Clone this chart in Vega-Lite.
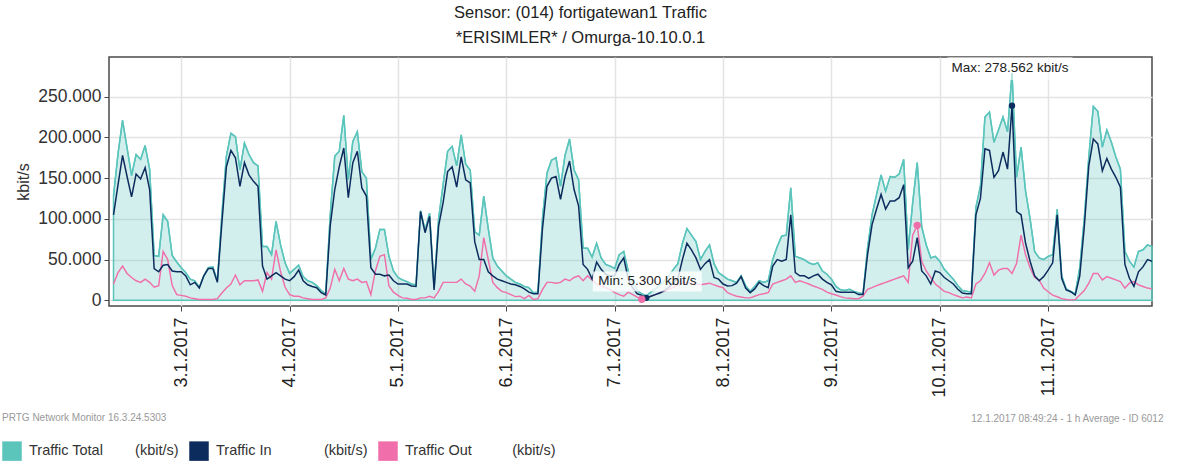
{
"$schema":"https://vega.github.io/schema/vega-lite/v6.json",
"width":1043,"height":249,
"autosize":{"type":"none"},
"padding":{"left":109,"top":57,"right":38,"bottom":164},
"background":"white",
"config":{"font":"Liberation Sans","view":{"stroke":"#4a4a4a","strokeWidth":1.5},
"axis":{"labelFont":"Liberation Sans","titleFont":"Liberation Sans","gridColor":"#e3e3e3","gridWidth":1.5,"tickColor":"#444","domain":false}},
"title":{"text":["Sensor: (014) fortigatewan1 Traffic","*ERISIMLER* / Omurga-10.10.0.1"],"anchor":"middle","frame":"group","dx":-50,"fontSize":16.5,"fontWeight":"normal","color":"#222","lineHeight":25,"offset":10,"font":"Liberation Sans"},
"datasets":{
"traffic":[
{"t":"2017-01-02T09:00","tot":128000,"in":105000,"out":20000},
{"t":"2017-01-02T10:00","tot":180000,"in":142000,"out":34000},
{"t":"2017-01-02T11:00","tot":221000,"in":178000,"out":42000},
{"t":"2017-01-02T12:00","tot":187000,"in":152000,"out":33000},
{"t":"2017-01-02T13:00","tot":153000,"in":127000,"out":28000},
{"t":"2017-01-02T14:00","tot":179000,"in":155000,"out":24000},
{"t":"2017-01-02T15:00","tot":173000,"in":149000,"out":22000},
{"t":"2017-01-02T16:00","tot":190000,"in":163000,"out":26000},
{"t":"2017-01-02T17:00","tot":161000,"in":136000,"out":22000},
{"t":"2017-01-02T18:00","tot":55000,"in":39000,"out":16000},
{"t":"2017-01-02T19:00","tot":54000,"in":35000,"out":18000},
{"t":"2017-01-02T20:00","tot":105000,"in":43000,"out":60000},
{"t":"2017-01-02T21:00","tot":97000,"in":44000,"out":50000},
{"t":"2017-01-02T22:00","tot":55000,"in":36000,"out":18000},
{"t":"2017-01-02T23:00","tot":47000,"in":35000,"out":7000},
{"t":"2017-01-03T00:00","tot":40000,"in":35000,"out":6000},
{"t":"2017-01-03T01:00","tot":34000,"in":30000,"out":5000},
{"t":"2017-01-03T02:00","tot":26000,"in":19000,"out":3000},
{"t":"2017-01-03T03:00","tot":24000,"in":22000,"out":2000},
{"t":"2017-01-03T04:00","tot":16000,"in":15000,"out":1000},
{"t":"2017-01-03T05:00","tot":30000,"in":30000,"out":1000},
{"t":"2017-01-03T06:00","tot":40000,"in":39000,"out":1000},
{"t":"2017-01-03T07:00","tot":41000,"in":39000,"out":1000},
{"t":"2017-01-03T08:00","tot":24000,"in":22000,"out":2000},
{"t":"2017-01-03T09:00","tot":105000,"in":95000,"out":9000},
{"t":"2017-01-03T10:00","tot":177000,"in":164000,"out":15000},
{"t":"2017-01-03T11:00","tot":205000,"in":184000,"out":20000},
{"t":"2017-01-03T12:00","tot":201000,"in":175000,"out":31000},
{"t":"2017-01-03T13:00","tot":160000,"in":140000,"out":19000},
{"t":"2017-01-03T14:00","tot":193000,"in":169000,"out":24000},
{"t":"2017-01-03T15:00","tot":179000,"in":154000,"out":24000},
{"t":"2017-01-03T16:00","tot":169000,"in":146000,"out":24000},
{"t":"2017-01-03T17:00","tot":165000,"in":140000,"out":25000},
{"t":"2017-01-03T18:00","tot":66000,"in":42000,"out":11000},
{"t":"2017-01-03T19:00","tot":66000,"in":26000,"out":34000},
{"t":"2017-01-03T20:00","tot":56000,"in":30000,"out":26000},
{"t":"2017-01-03T21:00","tot":97000,"in":34000,"out":62000},
{"t":"2017-01-03T22:00","tot":68000,"in":30000,"out":35000},
{"t":"2017-01-03T23:00","tot":46000,"in":26000,"out":16000},
{"t":"2017-01-04T00:00","tot":33000,"in":24000,"out":7000},
{"t":"2017-01-04T01:00","tot":38000,"in":29000,"out":5000},
{"t":"2017-01-04T02:00","tot":43000,"in":37000,"out":5000},
{"t":"2017-01-04T03:00","tot":29000,"in":24000,"out":3000},
{"t":"2017-01-04T04:00","tot":24000,"in":19000,"out":2000},
{"t":"2017-01-04T05:00","tot":22000,"in":17000,"out":1000},
{"t":"2017-01-04T06:00","tot":18000,"in":15500,"out":1000},
{"t":"2017-01-04T07:00","tot":12000,"in":9400,"out":1000},
{"t":"2017-01-04T08:00","tot":8000,"in":6500,"out":3000},
{"t":"2017-01-04T09:00","tot":105000,"in":92000,"out":15000},
{"t":"2017-01-04T10:00","tot":177000,"in":136000,"out":38000},
{"t":"2017-01-04T11:00","tot":183000,"in":164000,"out":24000},
{"t":"2017-01-04T12:00","tot":227000,"in":187000,"out":39000},
{"t":"2017-01-04T13:00","tot":148000,"in":126000,"out":26000},
{"t":"2017-01-04T14:00","tot":195000,"in":169000,"out":24000},
{"t":"2017-01-04T15:00","tot":207000,"in":183000,"out":26000},
{"t":"2017-01-04T16:00","tot":158000,"in":138000,"out":22000},
{"t":"2017-01-04T17:00","tot":150000,"in":128000,"out":23000},
{"t":"2017-01-04T18:00","tot":50000,"in":40000,"out":7000},
{"t":"2017-01-04T19:00","tot":64000,"in":32000,"out":36000},
{"t":"2017-01-04T20:00","tot":87000,"in":32000,"out":54000},
{"t":"2017-01-04T21:00","tot":87000,"in":30000,"out":56000},
{"t":"2017-01-04T22:00","tot":54000,"in":31000,"out":17500},
{"t":"2017-01-04T23:00","tot":36000,"in":24000,"out":10000},
{"t":"2017-01-05T00:00","tot":28000,"in":20000,"out":6000},
{"t":"2017-01-05T01:00","tot":25000,"in":20000,"out":3000},
{"t":"2017-01-05T02:00","tot":23000,"in":20000,"out":2500},
{"t":"2017-01-05T03:00","tot":20000,"in":17500,"out":1000},
{"t":"2017-01-05T04:00","tot":19000,"in":17000,"out":1000},
{"t":"2017-01-05T05:00","tot":110000,"in":109000,"out":3000},
{"t":"2017-01-05T06:00","tot":86000,"in":83000,"out":3000},
{"t":"2017-01-05T07:00","tot":107000,"in":103000,"out":5000},
{"t":"2017-01-05T08:00","tot":15000,"in":12600,"out":3000},
{"t":"2017-01-05T09:00","tot":100000,"in":91000,"out":11000},
{"t":"2017-01-05T10:00","tot":142000,"in":120000,"out":22000},
{"t":"2017-01-05T11:00","tot":183000,"in":158000,"out":22000},
{"t":"2017-01-05T12:00","tot":189000,"in":164000,"out":22000},
{"t":"2017-01-05T13:00","tot":165000,"in":139000,"out":22000},
{"t":"2017-01-05T14:00","tot":203000,"in":176000,"out":26000},
{"t":"2017-01-05T15:00","tot":167000,"in":148000,"out":20000},
{"t":"2017-01-05T16:00","tot":160000,"in":144000,"out":17500},
{"t":"2017-01-05T17:00","tot":84000,"in":72000,"out":11000},
{"t":"2017-01-05T18:00","tot":80000,"in":50000,"out":30000},
{"t":"2017-01-05T19:00","tot":128000,"in":50000,"out":77000},
{"t":"2017-01-05T20:00","tot":88000,"in":35000,"out":50000},
{"t":"2017-01-05T21:00","tot":52000,"in":30000,"out":22000},
{"t":"2017-01-05T22:00","tot":42000,"in":26000,"out":15500},
{"t":"2017-01-05T23:00","tot":36000,"in":24000,"out":11000},
{"t":"2017-01-06T00:00","tot":30000,"in":22000,"out":9400},
{"t":"2017-01-06T01:00","tot":26000,"in":20000,"out":7000},
{"t":"2017-01-06T02:00","tot":22000,"in":19000,"out":4500},
{"t":"2017-01-06T03:00","tot":20000,"in":17000,"out":5000},
{"t":"2017-01-06T04:00","tot":17000,"in":14000,"out":2000},
{"t":"2017-01-06T05:00","tot":15500,"in":10000,"out":6000},
{"t":"2017-01-06T06:00","tot":9400,"in":8000,"out":1000},
{"t":"2017-01-06T07:00","tot":10000,"in":8000,"out":2000},
{"t":"2017-01-06T08:00","tot":100000,"in":88000,"out":13000},
{"t":"2017-01-06T09:00","tot":156000,"in":140000,"out":22000},
{"t":"2017-01-06T10:00","tot":172000,"in":150000,"out":22000},
{"t":"2017-01-06T11:00","tot":175000,"in":152000,"out":21000},
{"t":"2017-01-06T12:00","tot":140000,"in":124000,"out":22000},
{"t":"2017-01-06T13:00","tot":178000,"in":152000,"out":26000},
{"t":"2017-01-06T14:00","tot":198000,"in":171000,"out":24000},
{"t":"2017-01-06T15:00","tot":160000,"in":136000,"out":28000},
{"t":"2017-01-06T16:00","tot":148000,"in":116000,"out":30000},
{"t":"2017-01-06T17:00","tot":64000,"in":44000,"out":24000},
{"t":"2017-01-06T18:00","tot":64000,"in":38000,"out":30000},
{"t":"2017-01-06T19:00","tot":53000,"in":26000,"out":25000},
{"t":"2017-01-06T20:00","tot":70000,"in":47000,"out":20000},
{"t":"2017-01-06T21:00","tot":52000,"in":38000,"out":17500},
{"t":"2017-01-06T22:00","tot":44000,"in":32000,"out":15500},
{"t":"2017-01-06T23:00","tot":42000,"in":30000,"out":13500},
{"t":"2017-01-07T00:00","tot":39000,"in":30000,"out":9400},
{"t":"2017-01-07T01:00","tot":56000,"in":44000,"out":7000},
{"t":"2017-01-07T02:00","tot":60000,"in":52000,"out":5000},
{"t":"2017-01-07T03:00","tot":36000,"in":26000,"out":10000},
{"t":"2017-01-07T04:00","tot":22000,"in":15000,"out":7000},
{"t":"2017-01-07T05:00","tot":12000,"in":8000,"out":4000},
{"t":"2017-01-07T06:00","tot":8000,"in":6000,"out":1200},
{"t":"2017-01-07T07:00","tot":5300,"in":3000,"out":1500},
{"t":"2017-01-07T08:00","tot":10000,"in":5000,"out":5000},
{"t":"2017-01-07T09:00","tot":14000,"in":7000,"out":7000},
{"t":"2017-01-07T10:00","tot":18000,"in":9000,"out":9400},
{"t":"2017-01-07T11:00","tot":24000,"in":12000,"out":11000},
{"t":"2017-01-07T12:00","tot":30000,"in":16000,"out":13500},
{"t":"2017-01-07T13:00","tot":38000,"in":22000,"out":16000},
{"t":"2017-01-07T14:00","tot":45000,"in":27000,"out":19000},
{"t":"2017-01-07T15:00","tot":70000,"in":50000,"out":21000},
{"t":"2017-01-07T16:00","tot":88000,"in":70000,"out":22000},
{"t":"2017-01-07T17:00","tot":80000,"in":62000,"out":21000},
{"t":"2017-01-07T18:00","tot":72000,"in":52000,"out":20000},
{"t":"2017-01-07T19:00","tot":50000,"in":38000,"out":19000},
{"t":"2017-01-07T20:00","tot":60000,"in":45000,"out":20000},
{"t":"2017-01-07T21:00","tot":68000,"in":50000,"out":21000},
{"t":"2017-01-07T22:00","tot":45000,"in":28000,"out":19000},
{"t":"2017-01-07T23:00","tot":34000,"in":26000,"out":17000},
{"t":"2017-01-08T00:00","tot":30000,"in":20000,"out":15500},
{"t":"2017-01-08T01:00","tot":26000,"in":17500,"out":9400},
{"t":"2017-01-08T02:00","tot":24000,"in":18000,"out":7000},
{"t":"2017-01-08T03:00","tot":22000,"in":21000,"out":5000},
{"t":"2017-01-08T04:00","tot":30000,"in":29000,"out":4000},
{"t":"2017-01-08T05:00","tot":18000,"in":15000,"out":3000},
{"t":"2017-01-08T06:00","tot":11000,"in":9400,"out":3000},
{"t":"2017-01-08T07:00","tot":17000,"in":14000,"out":5000},
{"t":"2017-01-08T08:00","tot":24000,"in":22000,"out":7000},
{"t":"2017-01-08T09:00","tot":22000,"in":18000,"out":8000},
{"t":"2017-01-08T10:00","tot":24000,"in":15500,"out":9400},
{"t":"2017-01-08T11:00","tot":50000,"in":42000,"out":20000},
{"t":"2017-01-08T12:00","tot":66000,"in":50000,"out":22000},
{"t":"2017-01-08T13:00","tot":79000,"in":48000,"out":24000},
{"t":"2017-01-08T14:00","tot":80000,"in":50000,"out":26000},
{"t":"2017-01-08T15:00","tot":138000,"in":105000,"out":30000},
{"t":"2017-01-08T16:00","tot":54000,"in":34000,"out":22000},
{"t":"2017-01-08T17:00","tot":52000,"in":30000,"out":24000},
{"t":"2017-01-08T18:00","tot":50000,"in":30000,"out":22000},
{"t":"2017-01-08T19:00","tot":46000,"in":27000,"out":20000},
{"t":"2017-01-08T20:00","tot":44000,"in":30000,"out":17500},
{"t":"2017-01-08T21:00","tot":46000,"in":32000,"out":15500},
{"t":"2017-01-08T22:00","tot":36000,"in":26000,"out":13500},
{"t":"2017-01-08T23:00","tot":32000,"in":22000,"out":10000},
{"t":"2017-01-09T00:00","tot":26000,"in":19000,"out":8000},
{"t":"2017-01-09T01:00","tot":17000,"in":11000,"out":6500},
{"t":"2017-01-09T02:00","tot":13000,"in":10000,"out":4500},
{"t":"2017-01-09T03:00","tot":12000,"in":10000,"out":3000},
{"t":"2017-01-09T04:00","tot":13500,"in":10000,"out":2500},
{"t":"2017-01-09T05:00","tot":11000,"in":10000,"out":2000},
{"t":"2017-01-09T06:00","tot":9000,"in":7000,"out":2000},
{"t":"2017-01-09T07:00","tot":8000,"in":7000,"out":5000},
{"t":"2017-01-09T08:00","tot":64000,"in":56000,"out":13500},
{"t":"2017-01-09T09:00","tot":105000,"in":93000,"out":15500},
{"t":"2017-01-09T10:00","tot":130000,"in":112000,"out":18000},
{"t":"2017-01-09T11:00","tot":154000,"in":130000,"out":20000},
{"t":"2017-01-09T12:00","tot":134000,"in":112000,"out":22000},
{"t":"2017-01-09T13:00","tot":152000,"in":122000,"out":24000},
{"t":"2017-01-09T14:00","tot":151000,"in":122000,"out":26000},
{"t":"2017-01-09T15:00","tot":155000,"in":126000,"out":28000},
{"t":"2017-01-09T16:00","tot":173000,"in":142000,"out":30000},
{"t":"2017-01-09T17:00","tot":62000,"in":40000,"out":22000},
{"t":"2017-01-09T18:00","tot":120000,"in":48000,"out":80000},
{"t":"2017-01-09T19:00","tot":169000,"in":77000,"out":92000},
{"t":"2017-01-09T20:00","tot":90000,"in":36000,"out":48000},
{"t":"2017-01-09T21:00","tot":68000,"in":30000,"out":36000},
{"t":"2017-01-09T22:00","tot":52000,"in":20000,"out":28000},
{"t":"2017-01-09T23:00","tot":54000,"in":36000,"out":20000},
{"t":"2017-01-10T00:00","tot":48000,"in":34000,"out":15500},
{"t":"2017-01-10T01:00","tot":38000,"in":28000,"out":11000},
{"t":"2017-01-10T02:00","tot":32000,"in":24000,"out":9400},
{"t":"2017-01-10T03:00","tot":26000,"in":20000,"out":7000},
{"t":"2017-01-10T04:00","tot":18000,"in":13500,"out":5000},
{"t":"2017-01-10T05:00","tot":12000,"in":9000,"out":3000},
{"t":"2017-01-10T06:00","tot":11000,"in":8000,"out":4000},
{"t":"2017-01-10T07:00","tot":10000,"in":8000,"out":3000},
{"t":"2017-01-10T08:00","tot":114000,"in":105000,"out":20000},
{"t":"2017-01-10T09:00","tot":140000,"in":125000,"out":24000},
{"t":"2017-01-10T10:00","tot":225000,"in":186000,"out":33000},
{"t":"2017-01-10T11:00","tot":231000,"in":184000,"out":46000},
{"t":"2017-01-10T12:00","tot":194000,"in":151000,"out":31000},
{"t":"2017-01-10T13:00","tot":209000,"in":159000,"out":37000},
{"t":"2017-01-10T14:00","tot":225000,"in":182000,"out":39000},
{"t":"2017-01-10T15:00","tot":207000,"in":161000,"out":39000},
{"t":"2017-01-10T16:00","tot":278562,"in":239000,"out":33000},
{"t":"2017-01-10T17:00","tot":151000,"in":109000,"out":45000},
{"t":"2017-01-10T18:00","tot":188000,"in":105000,"out":80000},
{"t":"2017-01-10T19:00","tot":134000,"in":70000,"out":56000},
{"t":"2017-01-10T20:00","tot":100000,"in":48000,"out":40000},
{"t":"2017-01-10T21:00","tot":60000,"in":30000,"out":28000},
{"t":"2017-01-10T22:00","tot":52000,"in":24000,"out":25000},
{"t":"2017-01-10T23:00","tot":50000,"in":29000,"out":15000},
{"t":"2017-01-11T00:00","tot":54000,"in":37000,"out":10500},
{"t":"2017-01-11T01:00","tot":56000,"in":46000,"out":6400},
{"t":"2017-01-11T02:00","tot":112000,"in":105000,"out":4300},
{"t":"2017-01-11T03:00","tot":30000,"in":27000,"out":2000},
{"t":"2017-01-11T04:00","tot":14000,"in":12600,"out":1000},
{"t":"2017-01-11T05:00","tot":11000,"in":10500,"out":500},
{"t":"2017-01-11T06:00","tot":8000,"in":6400,"out":1000},
{"t":"2017-01-11T07:00","tot":40000,"in":30000,"out":6400},
{"t":"2017-01-11T08:00","tot":100000,"in":90000,"out":12000},
{"t":"2017-01-11T09:00","tot":176000,"in":165000,"out":21000},
{"t":"2017-01-11T10:00","tot":238000,"in":198000,"out":33000},
{"t":"2017-01-11T11:00","tot":232000,"in":192000,"out":33000},
{"t":"2017-01-11T12:00","tot":188000,"in":159000,"out":25000},
{"t":"2017-01-11T13:00","tot":209000,"in":174000,"out":29000},
{"t":"2017-01-11T14:00","tot":194000,"in":161000,"out":27000},
{"t":"2017-01-11T15:00","tot":176000,"in":151000,"out":25000},
{"t":"2017-01-11T16:00","tot":161000,"in":139000,"out":23000},
{"t":"2017-01-11T17:00","tot":60000,"in":44000,"out":15000},
{"t":"2017-01-11T18:00","tot":48000,"in":27000,"out":21000},
{"t":"2017-01-11T19:00","tot":41000,"in":17000,"out":23000},
{"t":"2017-01-11T20:00","tot":60000,"in":35000,"out":19000},
{"t":"2017-01-11T21:00","tot":62000,"in":41000,"out":17000},
{"t":"2017-01-11T22:00","tot":68000,"in":50000,"out":15000},
{"t":"2017-01-11T23:00","tot":66000,"in":48000,"out":14000}
],
"dots":[
{"t":"2017-01-10T16:00","v":239000,"key":"in"},
{"t":"2017-01-09T19:00","v":92000,"key":"out"},
{"t":"2017-01-07T07:00","v":3000,"key":"in"},
{"t":"2017-01-07T06:00","v":1200,"key":"out"}
],
"notes":[
{"t":"2017-01-10T16:00","v":278562,"label":"Max: 278.562 kbit/s"},
{"t":"2017-01-07T07:00","v":5300,"label":"Min: 5.300 kbit/s"}
]
},
"data":{"name":"traffic"},
"encoding":{
"x":{"field":"t","type":"temporal",
"scale":{"domain":[{"year":2017,"month":1,"date":2,"hours":8},{"year":2017,"month":1,"date":11,"hours":23}],"nice":false},
"axis":{"format":"%-d.%-m.%Y","labelAngle":270,"tickCount":{"interval":"day","step":1},"labelFontSize":18,"labelColor":"#222","labelPadding":6,"tickSize":5,"labelOverlap":false,"labelFlush":false,"grid":true,
"title":"12.1.2017 08:49:24 - 1 h Average - ID 6012","titleX":1054,"titleY":112,"titleAlign":"right","titleBaseline":"middle","titleFontSize":10,"titleColor":"#999","titleFontWeight":"normal"}},
"y":{"field":"v","type":"quantitative",
"scale":{"domain":[-7000,298700],"nice":false,"zero":false},
"axis":{"values":[0,50000,100000,150000,200000,250000],"labelExpr":"replace(format(datum.value, ','), ',', '.')","labelFontSize":17.5,"labelColor":"#333","labelPadding":3,"tickSize":5,"grid":true,
"title":"kbit/s","titleFontSize":16,"titleFontWeight":"normal","titleColor":"#333","titlePadding":6}}
},
"layer":[
{"transform":[{"fold":["tot"],"as":["key","v"]}],
"mark":{"type":"area","fill":"#5bc5bc","fillOpacity":0.27,"stroke":"#5bc5bc","strokeWidth":1.5}},
{"transform":[{"fold":["tot","out","in"],"as":["key","v"]}],
"mark":{"type":"line","interpolate":"linear"},
"encoding":{
"color":{"field":"key","type":"nominal","scale":{"domain":["tot","in","out"],"range":["#5bc5bc","#0d2c5e","#f06eaa"]},
"legend":{"orient":"none","legendX":-107,"legendY":356,"direction":"horizontal","padding":0,
"title":"PRTG Network Monitor 16.3.24.5303","titleFontSize":10,"titleColor":"#999","titleFontWeight":"normal","titleFont":"Liberation Sans","titlePadding":18,"titleAnchor":"start",
"symbolType":"square","symbolSize":380,"symbolStrokeWidth":0,"labelFontSize":14.5,"labelColor":"#333","labelFont":"Liberation Sans","labelOffset":7,"columnPadding":10,"labelLimit":400,
"labelExpr":"datum.value == 'tot' ? 'Traffic Total\u00a0\u00a0\u00a0\u00a0\u00a0\u00a0\u00a0\u00a0(kbit/s)' : datum.value == 'in' ? 'Traffic In\u00a0\u00a0\u00a0\u00a0\u00a0\u00a0\u00a0\u00a0\u00a0\u00a0\u00a0\u00a0\u00a0(kbit/s)' : 'Traffic Out\u00a0\u00a0\u00a0\u00a0\u00a0\u00a0\u00a0\u00a0\u00a0\u00a0(kbit/s)'",
"encode":{"symbols":{"update":{"fill":{"scale":"color","field":"value"},"fillOpacity":{"value":1}}}}}},
"strokeWidth":{"field":"key","type":"ordinal","scale":{"domain":["tot","out","in"],"range":[1.4,1.5,2]},"legend":null}}},
{"data":{"name":"dots"},"transform":[{"filter":"datum.key == 'in'"}],
"mark":{"type":"point","filled":true,"color":"#0d2c5e","size":40,"opacity":1}},
{"data":{"name":"dots"},"transform":[{"filter":"datum.key == 'out'"}],
"mark":{"type":"point","filled":true,"color":"#f06eaa","size":55,"opacity":1}},
{"data":{"name":"notes"},"transform":[{"filter":"datum.v > 100000"}],
"mark":{"type":"point","filled":true,"shape":"M-1,-0.184H1V0.184H-1Z","size":15625,"color":"#ffffff","opacity":0.55,"yOffset":-5,"xOffset":-2}},
{"data":{"name":"notes"},"transform":[{"filter":"datum.v < 100000"}],
"mark":{"type":"point","filled":true,"shape":"M-1,-0.185H1V0.185H-1Z","size":11881,"color":"#ffffff","opacity":0.8,"yOffset":-14.5,"xOffset":1}},
{"data":{"name":"notes"},"transform":[{"filter":"datum.v > 100000"}],
"mark":{"type":"text","fontSize":13.5,"color":"#222","align":"center","baseline":"middle","dy":-5,"dx":-2},
"encoding":{"text":{"field":"label"}}},
{"data":{"name":"notes"},"transform":[{"filter":"datum.v < 100000"}],
"mark":{"type":"text","fontSize":13.5,"color":"#222","align":"center","baseline":"middle","dy":-14.5,"dx":1},
"encoding":{"text":{"field":"label"}}}
]
}
